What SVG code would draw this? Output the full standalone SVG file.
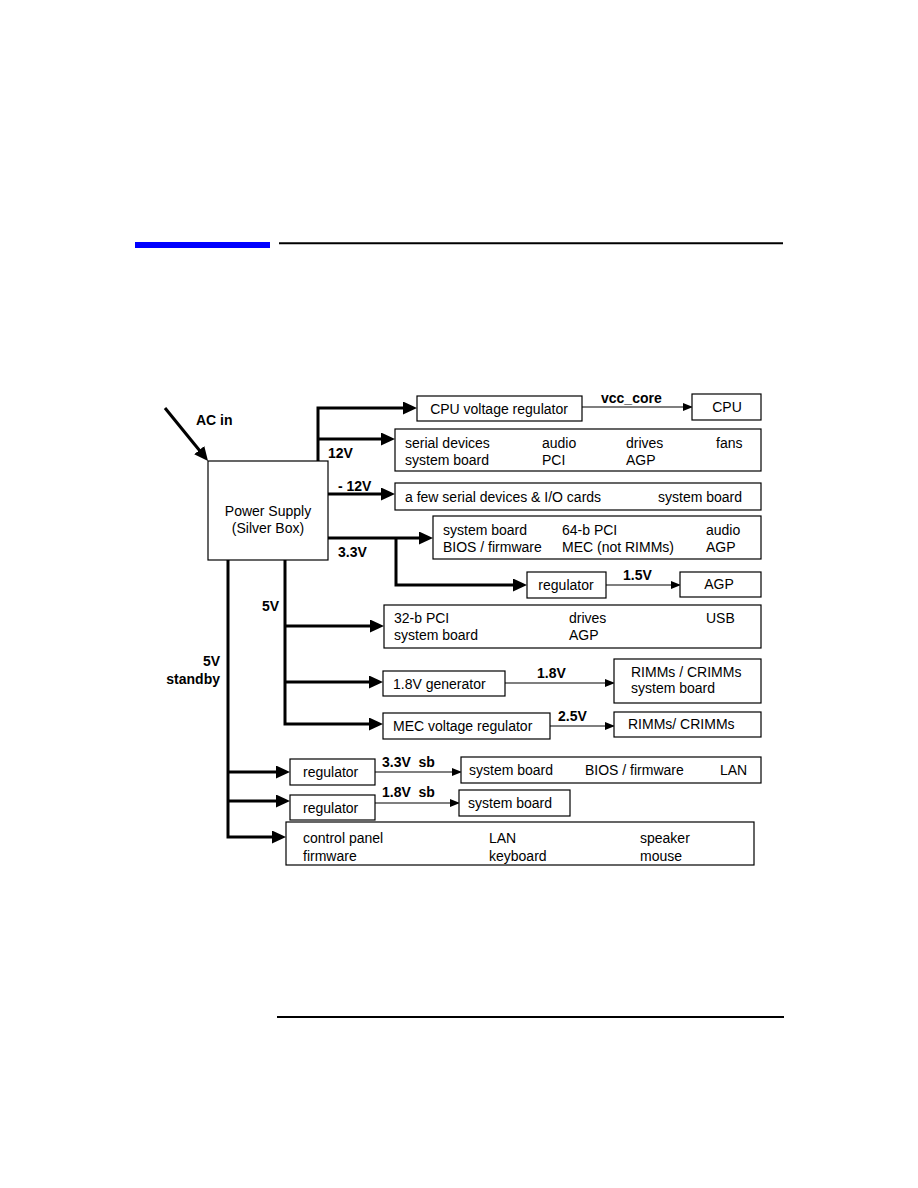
<svg xmlns="http://www.w3.org/2000/svg" width="918" height="1188" viewBox="0 0 918 1188">
<style>
text{font-family:"Liberation Sans",Arial,sans-serif;font-size:14px;fill:#000}
.b{font-weight:bold}
.m{text-anchor:middle}
.box{fill:#fff;stroke:#000;stroke-width:1.2}
.bus{fill:none;stroke:#000;stroke-width:3;stroke-linejoin:miter}
.thin{fill:none;stroke:#000;stroke-width:1.2}
</style>
<defs>
<marker id="big" markerUnits="userSpaceOnUse" markerWidth="16" markerHeight="14" refX="6" refY="6.5" orient="auto"><path d="M0,0 L14,6.5 L0,13 z" fill="#000"/></marker>
<marker id="sm" markerUnits="userSpaceOnUse" markerWidth="12" markerHeight="10" refX="4" refY="4" orient="auto"><path d="M0,0 L10,4 L0,8 z" fill="#000"/></marker>
</defs>
<rect width="918" height="1188" fill="#fff"/>
<g id="header">
<rect x="135" y="242" width="135" height="6" fill="#0000ff"/>
<line x1="279" y1="243.3" x2="783" y2="243.3" stroke="#000" stroke-width="2"/>
</g>
<g id="footer"><line x1="277" y1="1017" x2="784" y2="1017" stroke="#000" stroke-width="2"/></g>

<g id="connectors">
<path class="bus" d="M165,408 L203,454.8" marker-end="url(#big)"/>
<path class="bus" d="M318,461 V408 H409" marker-end="url(#big)"/>
<path class="bus" d="M318,439 H387" marker-end="url(#big)"/>
<path class="bus" d="M328,494 H387" marker-end="url(#big)"/>
<path class="bus" d="M328,538 H425" marker-end="url(#big)"/>
<path class="bus" d="M396,538 V585 H519" marker-end="url(#big)"/>
<path class="bus" d="M285,560 V724 H375" marker-end="url(#big)"/>
<path class="bus" d="M285,626 H376" marker-end="url(#big)"/>
<path class="bus" d="M285,682 H375" marker-end="url(#big)"/>
<path class="bus" d="M228,560 V837 H278" marker-end="url(#big)"/>
<path class="bus" d="M228,772 H282" marker-end="url(#big)"/>
<path class="bus" d="M228,801 H282" marker-end="url(#big)"/>
<path class="thin" d="M582,407 H687" marker-end="url(#sm)"/>
<path class="thin" d="M606,585 H675" marker-end="url(#sm)"/>
<path class="thin" d="M505,683 H609" marker-end="url(#sm)"/>
<path class="thin" d="M550,726 H609" marker-end="url(#sm)"/>
<path class="thin" d="M375,772 H456" marker-end="url(#sm)"/>
<path class="thin" d="M375,803 H454" marker-end="url(#sm)"/>
<text class="b" x="196" y="425">AC in</text>
<text class="b" x="328" y="458">12V</text>
<text class="b" x="338" y="491">- 12V</text>
<text class="b" x="338" y="557">3.3V</text>
<text class="b" x="262" y="611">5V</text>
<text class="b" x="220" y="666" text-anchor="end">5V</text>
<text class="b" x="220" y="684" text-anchor="end">standby</text>
<text class="b" x="601" y="403">vcc_core</text>
<text class="b" x="623" y="580">1.5V</text>
<text class="b" x="537" y="678">1.8V</text>
<text class="b" x="558" y="721">2.5V</text>
<text class="b" x="382" y="767" xml:space="preserve">3.3V  sb</text>
<text class="b" x="382" y="797" xml:space="preserve">1.8V  sb</text>
</g>

<g id="power-supply">
<rect class="box" x="208" y="461" width="120" height="99"/>
<text class="m" x="268" y="516">Power Supply</text>
<text class="m" x="268" y="533">(Silver Box)</text>
</g>
<g id="cpu-vreg">
<rect class="box" x="417" y="396" width="165" height="25"/>
<text class="m" x="499" y="414">CPU voltage regulator</text>
</g>
<g id="cpu">
<rect class="box" x="692" y="394" width="69" height="26"/>
<text class="m" x="727" y="412">CPU</text>
</g>
<g id="loads-12v">
<rect class="box" x="395" y="429" width="366" height="42"/>
<text x="405" y="448">serial devices</text><text x="542" y="448">audio</text><text x="626" y="448">drives</text><text x="716" y="448">fans</text>
<text x="405" y="465">system board</text><text x="542" y="465">PCI</text><text x="626" y="465">AGP</text>
</g>
<g id="loads-m12v">
<rect class="box" x="395" y="483" width="366" height="27"/>
<text x="405" y="502">a few serial devices &amp; I/O cards</text><text x="658" y="502">system board</text>
</g>
<g id="loads-3v3">
<rect class="box" x="433" y="516" width="328" height="43"/>
<text x="443" y="535">system board</text><text x="562" y="535">64-b PCI</text><text x="706" y="535">audio</text>
<text x="443" y="552">BIOS / firmware</text><text x="562" y="552">MEC (not RIMMs)</text><text x="706" y="552">AGP</text>
</g>
<g id="reg-1v5">
<rect class="box" x="527" y="572" width="79" height="26"/>
<text class="m" x="566" y="590">regulator</text>
</g>
<g id="agp">
<rect class="box" x="680" y="572" width="81" height="25"/>
<text class="m" x="719" y="589">AGP</text>
</g>
<g id="loads-5v">
<rect class="box" x="384" y="605" width="377" height="43"/>
<text x="394" y="623">32-b PCI</text><text x="569" y="623">drives</text><text x="706" y="623">USB</text>
<text x="394" y="640">system board</text><text x="569" y="640">AGP</text>
</g>
<g id="gen-1v8">
<rect class="box" x="383" y="671" width="122" height="25"/>
<text x="393" y="689">1.8V generator</text>
</g>
<g id="rimms-1v8">
<rect class="box" x="614" y="659" width="147" height="44"/>
<text x="631" y="677">RIMMs / CRIMMs</text>
<text x="631" y="693">system board</text>
</g>
<g id="mec-vreg">
<rect class="box" x="383" y="713" width="167" height="26"/>
<text x="393" y="731">MEC voltage regulator</text>
</g>
<g id="rimms-2v5">
<rect class="box" x="614" y="712" width="147" height="25"/>
<text x="628" y="729">RIMMs/ CRIMMs</text>
</g>
<g id="reg-3v3sb">
<rect class="box" x="290" y="759" width="85" height="26"/>
<text x="303" y="777">regulator</text>
</g>
<g id="loads-3v3sb">
<rect class="box" x="461" y="757" width="300" height="26"/>
<text x="469" y="775">system board</text><text x="585" y="775">BIOS / firmware</text><text x="720" y="775">LAN</text>
</g>
<g id="reg-1v8sb">
<rect class="box" x="290" y="795" width="85" height="25"/>
<text x="303" y="813">regulator</text>
</g>
<g id="loads-1v8sb">
<rect class="box" x="459" y="790" width="111" height="26"/>
<text x="468" y="808">system board</text>
</g>
<g id="loads-5vsb">
<rect class="box" x="286" y="822" width="468" height="43"/>
<text x="303" y="843">control panel</text><text x="489" y="843">LAN</text><text x="640" y="843">speaker</text>
<text x="303" y="861">firmware</text><text x="489" y="861">keyboard</text><text x="640" y="861">mouse</text>
</g>
</svg>
